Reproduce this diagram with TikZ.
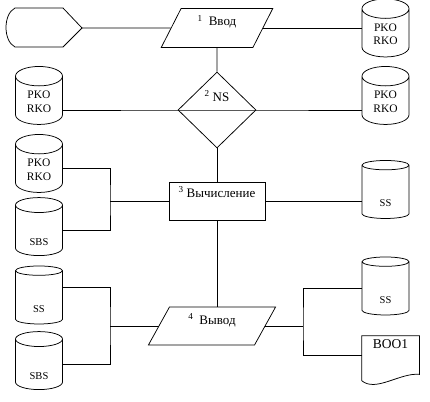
\documentclass[tikz,border=0pt]{standalone}
\usepackage{fontspec}
\setmainfont{Liberation Serif}
\usetikzlibrary{shapes.geometric,calc}

\tikzset{
  db/.style={draw,cylinder,shape border rotate=90,aspect=0.8,minimum width=47pt,minimum height=58pt,inner sep=0pt,align=center,font=\fontsize{11.5}{13.5}\selectfont},
  dbsmall/.style={db,text height=30pt,text depth=1pt,font=\fontsize{10.5}{12}\selectfont},
  iobox/.style={draw,trapezium,trapezium left angle=63,trapezium right angle=117,minimum width=96pt,minimum height=39pt,inner sep=1pt,text height=8pt,text depth=12pt,font=\fontsize{13}{15}\selectfont},
  procbox/.style={draw,rectangle,minimum width=96pt,minimum height=38pt,inner sep=1pt,text height=8pt,text depth=16pt,font=\fontsize{13}{15}\selectfont},
  decide/.style={draw,diamond,minimum width=78pt,minimum height=76pt,inner sep=0pt,text height=8pt,text depth=26pt,font=\fontsize{13}{15}\selectfont},
  docbox/.style={rectangle,minimum width=57pt,minimum height=38pt,inner sep=1pt,text height=8pt,text depth=22pt,font=\fontsize{13.5}{15}\selectfont}
}

\begin{document}
\begin{tikzpicture}[x=1pt,y=-1pt,line width=0.75pt]
  \useasboundingbox (0,0) rectangle (430,401);

  % display symbol
  \coordinate (disp) at (82,28);
  \draw (disp) -- (63,8) -- (15,8) .. controls (3,14) and (3,41) .. (15,47) -- (63,47) -- cycle;

  % steps
  \node[iobox] (vvod) at (217,28) {\textsuperscript{1}\hspace{6pt}Ввод};
  \node[decide] (ns) at (217,110) {\textsuperscript{2}\hspace{3pt}NS};
  \node[procbox] (calc) at (217,201) {\textsuperscript{3}\hspace{3pt}Вычисление};
  \node[iobox,trapezium left angle=61,trapezium right angle=119,minimum width=106pt,minimum height=38pt] (vyv) at (212,326) {\textsuperscript{4}\hspace{6pt}Вывод\hspace{10pt}};

  % data stores
  \node[db] (dbA) at (385.5,33) {\\[-3pt]PKO\\RKO};
  \node[db] (dbB) at (39,100.5) {\\[-3pt]PKO\\RKO};
  \node[db] (dbC) at (385.5,100.5) {\\[-3pt]PKO\\RKO};
  \node[db] (dbD) at (39,168.5) {\\[-3pt]PKO\\RKO};
  \node[dbsmall] (dbE) at (39,230.5) {SBS};
  \node[dbsmall] (dbF) at (385.5,192) {SS};
  \node[dbsmall] (dbG) at (39,297.5) {SS};
  \node[dbsmall] (dbH) at (39,364.5) {SBS};
  \node[dbsmall] (dbI) at (385.5,288.5) {SS};

  % document
  \node[docbox] (boo) at (390.5,355) {BOO1};
  \draw (boo.north east) -- (boo.north west) -- ++(0,45) .. controls +(14,12) and +(-19,-2) .. (boo.south east) -- cycle;

  % junctions
  \coordinate (jL) at (110,0 |- calc.west);
  \coordinate (jM) at (110,0 |- vyv.west);
  \coordinate (jR) at (303,0 |- vyv.east);

  % connectors
  \draw (disp) -- (vvod.west);
  \draw (vvod.east) -- (vvod.east -| dbA.west);
  \draw (vvod.south) -- (ns.north);
  \draw (dbB.east |- ns.west) -- (ns.west) -- (ns.east) -- (ns.east -| dbC.west);
  \draw (ns.south) -- (calc.north);
  \draw (dbD.east) -| (jL) |- (dbE.east);
  \draw (jL) -- (calc.west);
  \draw (calc.east) -- (calc.east -| dbF.west);
  \draw (calc.south) -- (calc.south |- vyv.north);
  \draw ([yshift=10pt]dbG.east) -| (jM) |- (dbH.east);
  \draw (jM) -- (vyv.west);
  \draw (vyv.east) -- (jR);
  \draw (dbI.west) -| (jR) |- (boo.west);
\end{tikzpicture}
\end{document}
